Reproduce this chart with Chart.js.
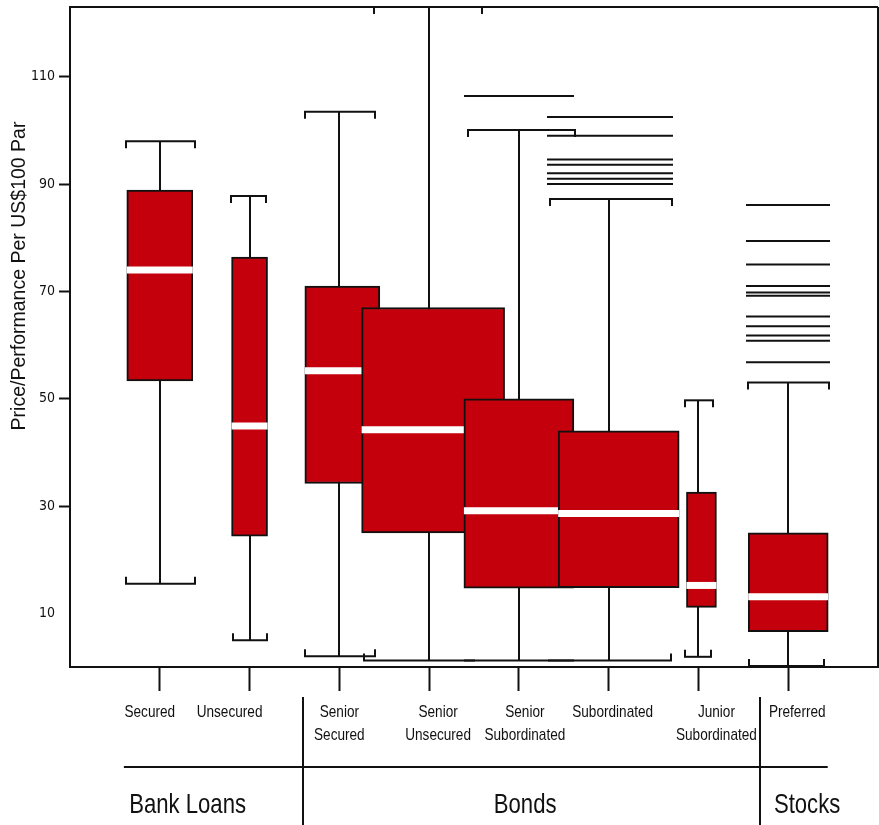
<!DOCTYPE html>
<html>
<head>
<meta charset="utf-8">
<script src="https://cdn.jsdelivr.net/npm/chart.js@4.4.1/dist/chart.umd.min.js"></script>
<style>
  html, body { margin: 0; padding: 0; background: #ffffff; }
  #wrap { width: 879px; height: 825px; }
</style>
</head>
<body>
<div id="wrap"><canvas id="chart" width="879" height="825"></canvas></div>
<script>
// ---- data ----
const categories = [
  ['Secured'], ['Unsecured'], ['Senior', 'Secured'], ['Senior', 'Unsecured'],
  ['Senior', 'Subordinated'], ['Subordinated'], ['Junior', 'Subordinated'], ['Preferred']
];
const groups = ['Bank Loans', 'Bonds', 'Stocks'];
const yTicks = [10, 30, 50, 70, 90, 110];

const whiskerHigh = [98.0, 87.8, 103.5, 123.0, 100.1, 87.2, 49.7, 53.0];
const q3          = [88.9, 76.4, 71.0, 67.0, 50.0, 44.0, 32.6, 25.0];
const median      = [74.0, 44.9, 55.2, 44.2, 29.1, 28.6, 15.2, 13.1];
const q1          = [53.3, 24.4, 34.2, 25.0, 14.7, 14.8, 11.1, 6.6];
const whiskerLow  = [15.5, 5.0, 2.0, 1.2, 1.2, 1.2, 1.9, 0.2];
const outliers = [
  [], [], [], [],
  [106.4],
  [102.5, 99.0, 94.6, 93.6, 92.0, 91.0, 90.0],
  [],
  [86.1, 79.4, 75.0, 71.0, 69.8, 69.2, 65.3, 63.5, 61.8, 60.8, 56.8]
];

// ---- styling / layout ----
const INK = '#111111';
const FILL = '#c3000b';
const CONDENSED = '"DejaVu Sans Condensed", "Liberation Sans Narrow", "Liberation Sans", sans-serif';
const REGULAR = '"Liberation Sans", Arial, sans-serif';

const boxWidthPx = [66, 36, 75, 143, 110, 121, 30, 80];
const boxShiftPx = [0, 0, 3, 4, 0, 10, 3, 0];
// cap extents in px around the whisker: [left, right, leftEnd, rightEnd]
const upperCap = [[-35, 36, 1, 1], [-20, 17, 1, 1], [-35, 37, 1, 1], [-56, 54, 1, 1],
                  [-52, 57, 1, 1], [-60, 64, 1, 1], [-14, 16, 1, 1], [-41, 42, 1, 1]];
const lowerCap = [[-35, 36, 1, 1], [-18, 18, 1, 1], [-35, 37, 1, 1], [-66, 46, 1, 0],
                  [-55, 55, 0, 0], [-61, 63, 0, 1], [-14, 14, 1, 1], [-40, 37, 1, 1]];
const outlierSpan = [null, null, null, null, [-55, 55], [-62, 64], null, [-42, 42]];
const labelShiftPx = [-10, -20, 0, 9, 6, 4, 18, 9];
const groupCenters = [0.31, 4.07, 7.21];   // in x-scale units
const groupDividers = [1.6, 6.69];
const groupRule = [-0.4, 7.44];
const CAP_TICK = 7;

function seg(ctx, x1, y1, x2, y2) {
  ctx.beginPath(); ctx.moveTo(x1, y1); ctx.lineTo(x2, y2); ctx.stroke();
}

// text squeezed horizontally, centred on (x, y)
function narrowText(ctx, text, x, y, sx) {
  ctx.save();
  ctx.translate(x, y);
  ctx.scale(sx, 1);
  ctx.fillText(text, 0, 0);
  ctx.restore();
}

const boxPlot = {
  id: 'boxPlot',
  afterDatasetsUpdate(chart) {
    categories.forEach((_, i) => {
      const el = chart.getDatasetMeta(i).data[0];
      if (el) el.x += boxShiftPx[i];
    });
  },
  beforeDatasetsDraw(chart) {
    const { ctx, scales: { x, y } } = chart;
    ctx.save();
    ctx.strokeStyle = INK;
    ctx.lineWidth = 2;
    categories.forEach((_, i) => {
      const cx = Math.round(x.getPixelForValue(i));
      const yHi = y.getPixelForValue(whiskerHigh[i]);
      const yLo = y.getPixelForValue(whiskerLow[i]);
      seg(ctx, cx, yHi, cx, yLo);
      // upper cap, ends pointing down
      let c = upperCap[i];
      seg(ctx, cx + c[0], yHi, cx + c[1], yHi);
      if (c[2]) seg(ctx, cx + c[0] + 1, yHi, cx + c[0] + 1, yHi + CAP_TICK);
      if (c[3]) seg(ctx, cx + c[1] - 1, yHi, cx + c[1] - 1, yHi + CAP_TICK);
      // lower cap, ends pointing up
      c = lowerCap[i];
      seg(ctx, cx + c[0], yLo, cx + c[1], yLo);
      if (c[2]) seg(ctx, cx + c[0] + 1, yLo, cx + c[0] + 1, yLo - CAP_TICK);
      if (c[3]) seg(ctx, cx + c[1] - 1, yLo, cx + c[1] - 1, yLo - CAP_TICK);
      // outliers drawn as horizontal strokes
      outliers[i].forEach(v => {
        const yy = y.getPixelForValue(v);
        seg(ctx, cx + outlierSpan[i][0], yy, cx + outlierSpan[i][1], yy);
      });
    });
    ctx.restore();
  },
  afterDatasetDraw(chart, args) {
    const i = args.index;
    const el = args.meta.data[0];
    if (!el) return;
    const { ctx, scales: { y } } = chart;
    const ym = y.getPixelForValue(median[i]);
    ctx.save();
    ctx.strokeStyle = '#ffffff';
    ctx.lineWidth = 7;
    seg(ctx, el.x - el.width / 2, ym, el.x + el.width / 2, ym);
    ctx.restore();
  },
  afterDraw(chart) {
    const { ctx, chartArea: a, scales: { x } } = chart;
    ctx.save();
    ctx.strokeStyle = INK;
    ctx.fillStyle = INK;
    ctx.lineWidth = 2;
    // frame: top and right edges
    seg(ctx, a.left, a.top, a.right, a.top);
    seg(ctx, a.right, a.top, a.right, a.bottom);

    // category labels
    ctx.font = '17px ' + REGULAR;
    ctx.textAlign = 'center';
    ctx.textBaseline = 'middle';
    categories.forEach((lines, i) => {
      const lx = x.getPixelForValue(i) + labelShiftPx[i];
      lines.forEach((t, k) => narrowText(ctx, t, lx, a.bottom + 45 + k * 23, 0.8));
    });

    // group rule, dividers and names
    const ruleY = a.bottom + 100;
    seg(ctx, x.getPixelForValue(groupRule[0]), ruleY, x.getPixelForValue(groupRule[1]), ruleY);
    groupDividers.forEach(v => {
      const dx = Math.round(x.getPixelForValue(v));
      seg(ctx, dx, a.bottom + 30, dx, chart.height);
    });
    ctx.font = '28px ' + REGULAR;
    groups.forEach((g, k) => narrowText(ctx, g, x.getPixelForValue(groupCenters[k]), a.bottom + 138, 0.79));

    // y-axis title
    ctx.translate(20, 276);
    ctx.rotate(-Math.PI / 2);
    ctx.font = '19.5px ' + REGULAR;
    ctx.fillText('Price/Performance Per US$100 Par', 0, 0);
    ctx.restore();
  }
};

const datasets = categories.map((c, i) => ({
  label: c.join(' '),
  data: [{ x: i, y: [q1[i], q3[i]] }],
  backgroundColor: FILL,
  borderColor: INK,
  borderWidth: 2,
  borderSkipped: false,
  barThickness: boxWidthPx[i],
  grouped: false,
  order: categories.length - i
}));

new Chart(document.getElementById('chart'), {
  type: 'bar',
  data: { datasets },
  options: {
    responsive: false,
    animation: false,
    devicePixelRatio: 1,
    layout: { padding: { top: 7, right: 1, bottom: 78, left: 0 } },
    plugins: { legend: { display: false }, tooltip: { enabled: false } },
    scales: {
      x: {
        type: 'linear', min: -1, max: 8, offset: false,
        afterBuildTicks: s => { s.ticks = categories.map((_, i) => ({ value: i })); },
        ticks: { display: false },
        grid: { offset: false, drawOnChartArea: false, drawTicks: true, tickLength: 24, tickWidth: 2, tickColor: INK },
        border: { display: true, color: INK, width: 2 },
        afterFit: s => { s.height = 80; s.paddingLeft = 0; s.paddingRight = 0; }
      },
      y: {
        type: 'linear', min: 0, max: 123,
        afterBuildTicks: s => { s.ticks = yTicks.map(v => ({ value: v })); },
        ticks: { font: { family: CONDENSED, size: 14 }, color: INK, padding: 4 },
        grid: {
          drawOnChartArea: false, drawTicks: true, tickLength: 11, tickWidth: 2,
          tickColor: c => (c.tick && c.tick.value === 10) ? 'rgba(0,0,0,0)' : INK
        },
        border: { display: true, color: INK, width: 2 },
        afterFit: s => { s.width = 70; s.paddingTop = 0; s.paddingBottom = 0; }
      }
    }
  },
  plugins: [boxPlot]
});
</script>
</body>
</html>
